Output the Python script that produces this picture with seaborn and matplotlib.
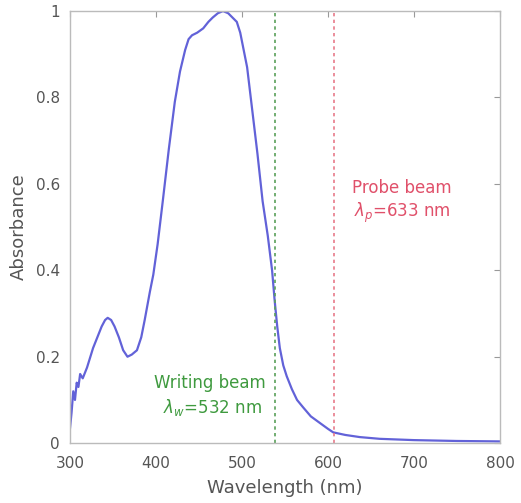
import numpy as np
import pandas as pd
import matplotlib
matplotlib.use('Agg')
import matplotlib.pyplot as plt
import seaborn as sns

# Absorbance spectrum
wavelength = [300, 302, 304, 306, 308, 310, 312, 315, 320, 327, 333, 337, 341, 344,
              348, 352, 357, 362, 367, 372, 378, 383, 387, 393, 397, 402, 408, 415,
              422, 428, 434, 438, 442, 448, 455, 461, 466, 472, 478, 484, 489, 494,
              498, 502, 506, 512, 518, 524, 530, 535, 538, 541, 544, 548, 552, 558,
              564, 571, 580, 591, 600, 606, 620, 637, 660, 700, 750, 800]
absorbance = [0.03, 0.07, 0.12, 0.10, 0.14, 0.13, 0.16, 0.15, 0.175, 0.22, 0.25, 0.27, 0.285, 0.29,
              0.285, 0.27, 0.245, 0.215, 0.20, 0.205, 0.215, 0.245, 0.285, 0.35, 0.39, 0.46, 0.56, 0.68,
              0.79, 0.86, 0.91, 0.935, 0.944, 0.95, 0.96, 0.975, 0.985, 0.995, 1.0, 0.995, 0.985, 0.975,
              0.95, 0.91, 0.87, 0.77, 0.67, 0.56, 0.48, 0.40, 0.33, 0.27, 0.22, 0.18, 0.155, 0.125,
              0.10, 0.083, 0.062, 0.046, 0.033, 0.025, 0.019, 0.014, 0.010, 0.007, 0.005, 0.004]

writing_line = 538
probe_line = 607
writing_label = ['Writing beam', r'$\lambda_w$=532 nm']
probe_label = ['Probe beam', r'$\lambda_p$=633 nm']

x_ticks = [300, 400, 500, 600, 700, 800]
y_ticks = [0, 0.2, 0.4, 0.6, 0.8, 1]
y_tick_labels = ['0', '0.2', '0.4', '0.6', '0.8', '1']

df = pd.DataFrame({'Wavelength': wavelength, 'Absorbance': absorbance})

sns.set_style('white')
plt.rcParams['font.family'] = ['DejaVu Sans']

fig = plt.figure(figsize=(5.21, 5.03), dpi=100)
ax = fig.add_axes([0.134, 0.119, 0.826, 0.859])

sns.lineplot(data=df, x='Wavelength', y='Absorbance', ax=ax,
             color='#6262d8', linewidth=1.6)

ax.axvline(writing_line, color='#5aa05a', linestyle=(0, (2, 2)), linewidth=1.2)
ax.axvline(probe_line, color='#e87a8a', linestyle=(0, (2, 2)), linewidth=1.2)

ax.text(463, 0.139, writing_label[0], color='#3f9a3f',
        fontsize=12, ha='center', va='center')
ax.text(466, 0.083, writing_label[1], color='#3f9a3f',
        fontsize=12, ha='center', va='center')
ax.text(686, 0.591, probe_label[0], color='#e0506a',
        fontsize=12, ha='center', va='center')
ax.text(686, 0.532, probe_label[1], color='#e0506a',
        fontsize=12, ha='center', va='center')

ax.set_xlim(300, 800)
ax.set_ylim(0, 1)
ax.set_xticks(x_ticks)
ax.set_yticks(y_ticks)
ax.set_yticklabels(y_tick_labels)
ax.tick_params(direction='in', length=4, color='#999999', labelsize=11,
               labelcolor='#555555', top=True, right=True)
ax.tick_params(axis='x', pad=9)
ax.tick_params(axis='y', pad=7)
for side in ax.spines.values():
    side.set_color('#bbbbbb')
    side.set_linewidth(1.0)
ax.set_xlabel('Wavelength (nm)', fontsize=13, color='#555555', labelpad=6)
ax.set_ylabel('Absorbance', fontsize=13, color='#555555', labelpad=6)

fig.savefig('out.png', dpi=100)
